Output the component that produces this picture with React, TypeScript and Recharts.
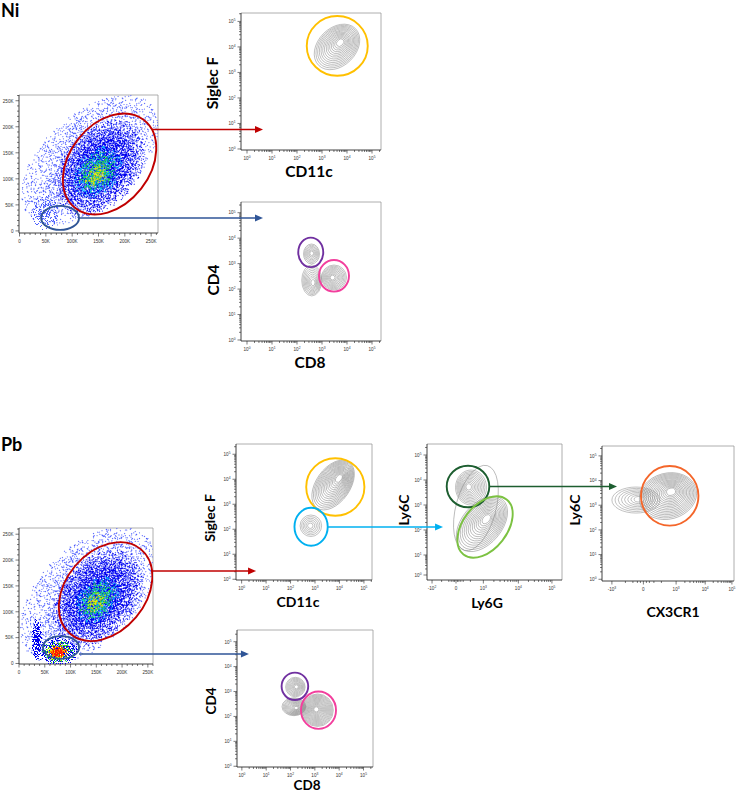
import React from "react";
import { ScatterChart, Scatter, XAxis, YAxis, ReferenceLine } from "recharts";

type Blob = { x: number; y: number; rx: number; ry: number; angle?: number; level: number };
type Pop = { x: number; y: number; px: number; py: number; rx: number; ry: number; angle?: number; rings: number };
type Gate = { x: number; y: number; rx: number; ry: number; angle?: number; gate: string };

// ---------- axis ticks ----------
const fscTicks = [0, 50, 100, 150, 200, 250];
const fscLabels = ["0", "50K", "100K", "150K", "200K", "250K"];
const logTicks = [0, 1, 2, 3, 4, 5];
const logLabels = ["10^0", "10^1", "10^2", "10^3", "10^4", "10^5"];
const ly6cTicks = [0.2, 1, 2, 3, 4, 5];
const ly6gTicks = [-1, 0, 1.14, 2.6, 4];
const ly6gLabels = ["-10^2", "0", "10^3", "10^4", "10^5"];
const ly6gExtra = [-0.6, -0.3, -0.2, -0.12, -0.06, 0.06, 0.12, 0.2, 0.3, 0.6];
const cx3cr1Ticks = [-1.05, 0, 1.09, 2.06, 2.95];
const cx3cr1Labels = ["-10^3", "0", "10^3", "10^4", "10^5"];
const cx3cr1Extra = [-0.6, -0.35, -0.2, -0.1, 0.1, 0.2, 0.35, 0.6];

// ---------- Ni ----------
// FSC-A / SSC-A dot plot, values in K
const niFscCloud: Blob[] = [
  { x: 134, y: 136, rx: 161, ry: 92, angle: -42, level: 0 },
  { x: 48, y: 36, rx: 27, ry: 35, level: 0 },
  { x: 153, y: 121, rx: 104, ry: 73, angle: -50, level: 1 },
  { x: 149, y: 113, rx: 57, ry: 42, angle: -50, level: 2 },
  { x: 149, y: 113, rx: 45, ry: 32, angle: -50, level: 3 },
  { x: 146, y: 106, rx: 27, ry: 19, angle: -50, level: 4 },
];
const niFscGates: Gate[] = [
  { x: 171, y: 128.5, rx: 106, ry: 77, angle: -52, gate: "red" },
  { x: 77, y: 25, rx: 36, ry: 23, gate: "blue" },
];
// Siglec F vs CD11c (log10 units)
const niSiglecPops: Pop[] = [
  { x: 3.6, y: 4.0, px: 3.75, py: 4.2, rx: 1.04, ry: 0.745, angle: -45, rings: 14 },
];
const niSiglecGates: Gate[] = [{ x: 3.61, y: 4.04, rx: 1.22, ry: 1.17, gate: "yellow" }];
// CD4 vs CD8
const niCd4Pops: Pop[] = [
  { x: 2.58, y: 3.38, px: 2.59, py: 3.41, rx: 0.32, ry: 0.39, rings: 7 },
  { x: 3.48, y: 2.455, px: 3.41, py: 2.45, rx: 0.5, ry: 0.49, rings: 10 },
  { x: 2.59, y: 2.34, px: 2.65, py: 2.23, rx: 0.4, ry: 0.61, rings: 9 },
];
const niCd4Gates: Gate[] = [
  { x: 2.55, y: 3.44, rx: 0.5, ry: 0.58, gate: "purple" },
  { x: 3.48, y: 2.52, rx: 0.6, ry: 0.62, gate: "pink" },
];

// ---------- Pb ----------
const pbFscCloud: Blob[] = [
  { x: 134, y: 132, rx: 165, ry: 97, angle: -45, level: 0 },
  { x: 153, y: 127, rx: 107, ry: 74, angle: -50, level: 1 },
  { x: 35, y: 45, rx: 10, ry: 43, level: 1 },
  { x: 153, y: 123, rx: 54, ry: 39, angle: -50, level: 2 },
  { x: 153, y: 123, rx: 44, ry: 31, angle: -50, level: 3 },
  { x: 149, y: 119, rx: 23, ry: 17, angle: -50, level: 4 },
  { x: 76, y: 22, rx: 41, ry: 29, level: 1 },
  { x: 76, y: 22, rx: 33, ry: 24, level: 3 },
  { x: 76, y: 22, rx: 25, ry: 18, level: 4 },
  { x: 76, y: 22, rx: 20, ry: 14, level: 5 },
  { x: 76, y: 22, rx: 15, ry: 11, level: 6 },
];
const pbFscGates: Gate[] = [
  { x: 168, y: 139, rx: 107, ry: 77, angle: -50, gate: "red" },
  { x: 81.5, y: 31, rx: 35, ry: 22, gate: "blue" },
];
const pbSiglecPops: Pop[] = [
  { x: 3.74, y: 3.77, px: 4.02, py: 4.08, rx: 1.145, ry: 0.68, angle: -55, rings: 16 },
  { x: 2.83, y: 2.14, px: 2.8, py: 2.14, rx: 0.44, ry: 0.43, rings: 6 },
];
const pbSiglecGates: Gate[] = [
  { x: 3.83, y: 3.69, rx: 1.19, ry: 1.15, gate: "yellow" },
  { x: 2.84, y: 2.1, rx: 0.68, ry: 0.76, gate: "cyan" },
];
const pbLy6cPops: Pop[] = [
  { x: 0.83, y: 2.88, px: 0.83, py: 2.88, rx: 1.83, ry: 0.8, angle: -75, rings: 1 },
  { x: 0.625, y: 3.7, px: 0.51, py: 3.73, rx: 0.646, ry: 0.7, rings: 11 },
  { x: 1.08, y: 2.24, px: 1.3, py: 2.47, rx: 1.334, ry: 0.8, angle: -50, rings: 14 },
];
const pbLy6cGates: Gate[] = [
  { x: 0.5, y: 3.74, rx: 0.888, ry: 0.832, gate: "darkgreen" },
  { x: 1.21, y: 2.12, rx: 1.46, ry: 0.88, angle: -52, gate: "lightgreen" },
];
const pbCx3Pops: Pop[] = [
  { x: -0.25, y: 3.21, px: -0.11, py: 3.25, rx: 0.8, ry: 0.527, rings: 8 },
  { x: 0.82, y: 3.37, px: 0.94, py: 3.58, rx: 0.967, ry: 0.932, angle: -15, rings: 16 },
];
const pbCx3Gates: Gate[] = [{ x: 0.877, y: 3.38, rx: 0.957, ry: 1.207, gate: "orange" }];
const pbCd4Pops: Pop[] = [
  { x: 2.2, y: 3.18, px: 2.25, py: 3.19, rx: 0.4, ry: 0.39, rings: 9 },
  { x: 2.14, y: 2.39, px: 2.25, py: 2.33, rx: 0.49, ry: 0.36, rings: 12 },
  { x: 3.11, y: 2.25, px: 3.05, py: 2.29, rx: 0.65, ry: 0.654, rings: 16 },
];
const pbCd4Gates: Gate[] = [
  { x: 2.18, y: 3.21, rx: 0.547, ry: 0.55, gate: "purple" },
  { x: 3.15, y: 2.25, rx: 0.72, ry: 0.75, gate: "pink" },
];

// gate -> next plot
const arrows = [
  { from: "niFsc", x: 251.6, y: 194.8, to: "niSiglec", tx: 0.64, color: "red" },
  { from: "niFsc", x: 113, y: 24.8, to: "niCd4", tx: 0.64, color: "blue" },
  { from: "pbFsc", x: 258, y: 178.8, to: "pbSiglec", tx: 0.59, color: "red" },
  { from: "pbFsc", x: 116.4, y: 18.3, to: "pbCd4", tx: 0.29, color: "blue" },
  { from: "pbSiglec", x: 3.53, y: 2.09, to: "pbLy6c", tx: -0.54, color: "cyan" },
  { from: "pbLy6c", x: 1.39, y: 3.74, to: "pbCx3", tx: -0.88, color: "darkgreen" },
];

const GATE_COLORS: Record<string, string> = {
  red: "#c00000",
  blue: "#2f5597",
  yellow: "#ffc000",
  purple: "#7030a0",
  pink: "#f23f9d",
  cyan: "#00b0f0",
  darkgreen: "#1d5e30",
  lightgreen: "#7cc242",
  orange: "#f4662a",
};

// colour / density of the dot-plot layers
const DENSITY = [
  { color: "#4a5cff", c: 0.4, e: 0.03 },
  { color: "#0000ee", c: 0.78, e: 0.05 },
  { color: "#00c0ff", c: 0.5, e: 0 },
  { color: "#22dd33", c: 0.5, e: 0 },
  { color: "#efe600", c: 0.55, e: 0 },
  { color: "#ff8000", c: 0.75, e: 0 },
  { color: "#ff1a00", c: 0.95, e: 0.2 },
];

const FONT = "Lato, 'Open Sans', sans-serif";
const TICK_FONT = "'Liberation Sans', Arial, sans-serif";

interface PanelDef {
  box: [number, number, number, number];
  xDomain: [number, number];
  yDomain: [number, number];
  xTicks: number[];
  xLabels: string[];
  xMinor: number[];
  yTicks: number[];
  yLabels: string[];
  yMinor: number[];
  clouds?: Blob[];
  pops?: Pop[];
  gates: Gate[];
  xTitle?: string;
  yTitle?: string;
  xTitleAt?: [number, number];
  yTitleAt?: [number, number];
  titleSize?: number;
}

function linMinors(max: number) {
  const out: number[] = [];
  for (let v = 10; v <= max; v += 10) if (v % 50 !== 0) out.push(v);
  return out;
}

function logMinors(ticks: number[], labels: string[], max: number) {
  const out: number[] = [];
  for (let i = 0; i < ticks.length - 1; i++) {
    if (labels[i].startsWith("10^") && labels[i + 1].startsWith("10^")) {
      const gap = ticks[i + 1] - ticks[i];
      for (let k = 2; k <= 9; k++) out.push(ticks[i] + gap * Math.log10(k));
      if (i === ticks.length - 2) {
        for (let k = 2; k <= 9; k++) {
          const v = ticks[i + 1] + gap * Math.log10(k);
          if (v < max) out.push(v);
        }
      }
    }
  }
  return out;
}

const PANELS: Record<string, PanelDef> = {
  niFsc: {
    box: [19, 95, 158, 233], xDomain: [-1, 263], yDomain: [-4, 261],
    xTicks: fscTicks, xLabels: fscLabels, xMinor: linMinors(260),
    yTicks: fscTicks, yLabels: fscLabels, yMinor: linMinors(260),
    clouds: niFscCloud, gates: niFscGates,
  },
  niSiglec: {
    box: [241, 13, 381, 150], xDomain: [-0.24, 5.36], yDomain: [-0.04, 5.33],
    xTicks: logTicks, xLabels: logLabels, xMinor: logMinors(logTicks, logLabels, 5.36),
    yTicks: logTicks, yLabels: logLabels, yMinor: logMinors(logTicks, logLabels, 5.33),
    pops: niSiglecPops, gates: niSiglecGates,
    xTitle: "CD11c", yTitle: "Siglec F", xTitleAt: [309, 172], yTitleAt: [213, 83], titleSize: 15.5,
  },
  niCd4: {
    box: [241, 202, 381, 341], xDomain: [-0.24, 5.36], yDomain: [-0.04, 5.42],
    xTicks: logTicks, xLabels: logLabels, xMinor: logMinors(logTicks, logLabels, 5.36),
    yTicks: logTicks, yLabels: logLabels, yMinor: logMinors(logTicks, logLabels, 5.42),
    pops: niCd4Pops, gates: niCd4Gates,
    xTitle: "CD8", yTitle: "CD4", xTitleAt: [310, 363], yTitleAt: [214, 280], titleSize: 15.5,
  },
  pbFsc: {
    box: [19, 528, 153, 664], xDomain: [0, 260], yDomain: [-1, 262],
    xTicks: fscTicks, xLabels: fscLabels, xMinor: linMinors(260),
    yTicks: fscTicks, yLabels: fscLabels, yMinor: linMinors(260),
    clouds: pbFscCloud, gates: pbFscGates,
  },
  pbSiglec: {
    box: [236, 444, 372, 580], xDomain: [-0.23, 5.33], yDomain: [-0.03, 5.41],
    xTicks: logTicks, xLabels: logLabels, xMinor: logMinors(logTicks, logLabels, 5.33),
    yTicks: logTicks, yLabels: logLabels, yMinor: logMinors(logTicks, logLabels, 5.41),
    pops: pbSiglecPops, gates: pbSiglecGates,
    xTitle: "CD11c", yTitle: "Siglec F", xTitleAt: [298, 602], yTitleAt: [210, 518], titleSize: 14,
  },
  pbLy6c: {
    box: [427, 444, 562, 580], xDomain: [-1.21, 4.42], yDomain: [0, 5.44],
    xTicks: ly6gTicks, xLabels: ly6gLabels, xMinor: [...ly6gExtra, ...logMinors(ly6gTicks, ly6gLabels, 4.42)],
    yTicks: ly6cTicks, yLabels: logLabels, yMinor: logMinors(ly6cTicks, logLabels, 5.44),
    pops: pbLy6cPops, gates: pbLy6cGates,
    xTitle: "Ly6G", yTitle: "Ly6C", xTitleAt: [487, 603], yTitleAt: [404, 510], titleSize: 14,
  },
  pbCx3: {
    box: [602, 446, 734, 581], xDomain: [-1.38, 3.02], yDomain: [-0.07, 5.4],
    xTicks: cx3cr1Ticks, xLabels: cx3cr1Labels, xMinor: [...cx3cr1Extra, ...logMinors(cx3cr1Ticks, cx3cr1Labels, 3.02)],
    yTicks: logTicks, yLabels: logLabels, yMinor: logMinors(logTicks, logLabels, 5.4),
    pops: pbCx3Pops, gates: pbCx3Gates,
    xTitle: "CX3CR1", yTitle: "Ly6C", xTitleAt: [673, 612], yTitleAt: [575, 510], titleSize: 14,
  },
  pbCd4: {
    box: [237, 630, 373, 767], xDomain: [-0.2, 5.39], yDomain: [-0.03, 5.47],
    xTicks: logTicks, xLabels: logLabels, xMinor: logMinors(logTicks, logLabels, 5.39),
    yTicks: logTicks, yLabels: logLabels, yMinor: logMinors(logTicks, logLabels, 5.47),
    pops: pbCd4Pops, gates: pbCd4Gates,
    xTitle: "CD8", yTitle: "CD4", xTitleAt: [307, 786], yTitleAt: [212, 701], titleSize: 13.5,
  },
};

function scales(p: PanelDef) {
  const [l, t, r, b] = p.box;
  return {
    xs: (r - l) / (p.xDomain[1] - p.xDomain[0]),
    ys: (b - t) / (p.yDomain[1] - p.yDomain[0]),
  };
}
const pageX = (p: PanelDef, x: number) => p.box[0] + (x - p.xDomain[0]) * scales(p).xs;
const pageY = (p: PanelDef, y: number) => p.box[1] + (p.yDomain[1] - y) * scales(p).ys;

function tickText(label: string, x: number, y: number, anchor: "middle" | "end") {
  const i = label.indexOf("^");
  const common = { x, y, fontSize: 4.6, fill: "#333", textAnchor: anchor, fontFamily: TICK_FONT };
  if (i < 0) return <text {...common}>{label}</text>;
  return (
    <text {...common}>
      {label.slice(0, i)}
      <tspan dy={-1.8} fontSize={3.3}>{label.slice(i + 1)}</tspan>
    </text>
  );
}

const makeXTick = (ticks: number[], labels: string[]) => (props: any) => {
  const { x, y, payload } = props;
  const idx = ticks.indexOf(payload.value);
  const major = idx >= 0;
  return (
    <g>
      <line x1={x} x2={x} y1={y} y2={y + (major ? 3.5 : 2)} stroke="#222" strokeWidth={0.6} />
      {major && tickText(labels[idx], x, y + 9.5, "middle")}
    </g>
  );
};

const makeYTick = (ticks: number[], labels: string[]) => (props: any) => {
  const { x, y, payload } = props;
  const idx = ticks.indexOf(payload.value);
  const major = idx >= 0;
  return (
    <g>
      <line x1={x} x2={x - (major ? 3.5 : 2)} y1={y} y2={y} stroke="#222" strokeWidth={0.6} />
      {major && tickText(labels[idx], x - 5.5, y + 1.8, "end")}
    </g>
  );
};

const rot = (a: number | undefined, cx: number, cy: number) => (a ? `rotate(${a} ${cx} ${cy})` : undefined);

const cloudShape = (xs: number, ys: number) => (props: any) => {
  const { cx, cy, payload } = props;
  return (
    <ellipse
      cx={cx}
      cy={cy}
      rx={payload.rx * xs}
      ry={payload.ry * ys}
      transform={rot(payload.angle, cx, cy)}
      fill={`url(#dens-${payload.level})`}
      filter={`url(#speckle-${payload.level})`}
    />
  );
};

const contourShape = (xs: number, ys: number) => (props: any) => {
  const { cx, cy, payload: p } = props;
  const pkx = cx + (p.px - p.x) * xs;
  const pky = cy - (p.py - p.y) * ys;
  const rings = [];
  for (let i = 0; i < p.rings; i++) {
    const f = 1 - (i / p.rings) * 0.9;
    const ex = pkx + (cx - pkx) * f;
    const ey = pky + (cy - pky) * f;
    rings.push(
      <ellipse
        key={i}
        cx={ex}
        cy={ey}
        rx={p.rx * xs * f}
        ry={p.ry * ys * f}
        transform={rot(p.angle, ex, ey)}
        fill="none"
        stroke="#858585"
        strokeWidth={0.5}
      />
    );
  }
  return <g>{rings}</g>;
};

const gateShape = (xs: number, ys: number) => (props: any) => {
  const { cx, cy, payload } = props;
  return (
    <ellipse
      cx={cx}
      cy={cy}
      rx={payload.rx * xs}
      ry={payload.ry * ys}
      transform={rot(payload.angle, cx, cy)}
      fill="none"
      stroke={GATE_COLORS[payload.gate]}
      strokeWidth={1.9}
    />
  );
};

const YW = 34;
const XH = 22;
const MT = 6;
const MR = 8;

function FlowPanel({ p }: { p: PanelDef }) {
  const [l, t, r, b] = p.box;
  const w = r - l;
  const h = b - t;
  const { xs, ys } = scales(p);
  const size = p.titleSize ?? 14;
  const title: React.CSSProperties = {
    position: "absolute",
    fontFamily: FONT,
    fontWeight: 700,
    fontSize: size,
    lineHeight: 1,
    whiteSpace: "nowrap",
    color: "#000",
  };
  return (
    <>
      <div style={{ position: "absolute", left: l - YW, top: t - MT }}>
        <ScatterChart width={YW + w + MR} height={MT + h + XH} margin={{ top: MT, right: MR, bottom: 0, left: 0 }}>
          <XAxis
            type="number"
            dataKey="x"
            domain={p.xDomain}
            ticks={[...p.xTicks, ...p.xMinor]}
            interval={0}
            allowDataOverflow
            tickSize={0}
            tickMargin={0}
            tickLine={false}
            tick={makeXTick(p.xTicks, p.xLabels)}
            axisLine={{ stroke: "#111", strokeWidth: 0.8 }}
            height={XH}
          />
          <YAxis
            type="number"
            dataKey="y"
            domain={p.yDomain}
            ticks={[...p.yTicks, ...p.yMinor]}
            interval={0}
            allowDataOverflow
            tickSize={0}
            tickMargin={0}
            tickLine={false}
            tick={makeYTick(p.yTicks, p.yLabels)}
            axisLine={{ stroke: "#111", strokeWidth: 0.8 }}
            width={YW}
          />
          <ReferenceLine y={p.yDomain[1]} stroke="#9a9a9a" strokeWidth={0.8} />
          <ReferenceLine x={p.xDomain[1]} stroke="#9a9a9a" strokeWidth={0.8} />
          {p.clouds && <Scatter data={p.clouds} shape={cloudShape(xs, ys)} isAnimationActive={false} />}
          {p.pops && <Scatter data={p.pops} shape={contourShape(xs, ys)} isAnimationActive={false} />}
          <Scatter data={p.gates} shape={gateShape(xs, ys)} isAnimationActive={false} />
        </ScatterChart>
      </div>
      {p.xTitle && p.xTitleAt && (
        <div style={{ ...title, left: p.xTitleAt[0], top: p.xTitleAt[1], transform: "translate(-50%, -50%)" }}>
          {p.xTitle}
        </div>
      )}
      {p.yTitle && p.yTitleAt && (
        <div
          style={{
            ...title,
            left: p.yTitleAt[0],
            top: p.yTitleAt[1],
            transform: "translate(-50%, -50%) rotate(-90deg)",
          }}
        >
          {p.yTitle}
        </div>
      )}
    </>
  );
}

function Defs() {
  return (
    <svg width={0} height={0} style={{ position: "absolute" }}>
      <defs>
        {DENSITY.map((d, i) => (
          <React.Fragment key={i}>
            <radialGradient id={`dens-${i}`}>
              <stop offset="0" stopColor={d.color} stopOpacity={d.c} />
              <stop offset="0.45" stopColor={d.color} stopOpacity={d.c * 0.8 + d.e * 0.2} />
              <stop offset="0.8" stopColor={d.color} stopOpacity={d.c * 0.4 + d.e * 0.6} />
              <stop offset="1" stopColor={d.color} stopOpacity={d.e} />
            </radialGradient>
            <filter id={`speckle-${i}`} colorInterpolationFilters="sRGB">
              <feTurbulence type="fractalNoise" baseFrequency="0.85" numOctaves={2} seed={i * 7 + 3} result="noise" />
              <feColorMatrix
                in="noise"
                type="matrix"
                values="0 0 0 0 0  0 0 0 0 0  0 0 0 0 0  3.2 0 0 0 -1.1"
                result="n"
              />
              <feComposite in="SourceAlpha" in2="n" operator="arithmetic" k1={0} k2={1} k3={0.95} k4={-0.5} result="sum" />
              <feComponentTransfer in="sum" result="mask">
                <feFuncA type="discrete" tableValues="0 1" />
              </feComponentTransfer>
              <feColorMatrix
                in="SourceGraphic"
                type="matrix"
                values="1 0 0 0 0  0 1 0 0 0  0 0 1 0 0  0 0 0 0 1"
                result="solid"
              />
              <feComposite in="solid" in2="mask" operator="in" />
            </filter>
          </React.Fragment>
        ))}
      </defs>
    </svg>
  );
}

function ArrowLayer() {
  return (
    <svg width={738} height={793} style={{ position: "absolute", left: 0, top: 0, pointerEvents: "none" }}>
      {arrows.map((a, i) => {
        const src = PANELS[a.from];
        const dst = PANELS[a.to];
        const x1 = pageX(src, a.x);
        const y = pageY(src, a.y);
        const x2 = pageX(dst, a.tx);
        const c = GATE_COLORS[a.color];
        return (
          <g key={i}>
            <line x1={x1} y1={y} x2={x2 - 6} y2={y} stroke={c} strokeWidth={1.6} />
            <polygon points={`${x2},${y} ${x2 - 8},${y - 3.5} ${x2 - 8},${y + 3.5}`} fill={c} />
          </g>
        );
      })}
    </svg>
  );
}

export default function App() {
  const group: React.CSSProperties = {
    position: "absolute",
    left: 1,
    fontFamily: FONT,
    fontWeight: 700,
    fontSize: 18,
    lineHeight: 1.2,
  };
  return (
    <div
      style={{
        position: "absolute",
        left: 0,
        top: 0,
        width: 738,
        height: 793,
        background: "#fff",
        overflow: "hidden",
      }}
    >
      <Defs />
      <div style={{ ...group, top: 0 }}>Ni</div>
      <div style={{ ...group, top: 434 }}>Pb</div>
      {Object.entries(PANELS).map(([id, p]) => (
        <FlowPanel key={id} p={p} />
      ))}
      <ArrowLayer />
    </div>
  );
}
